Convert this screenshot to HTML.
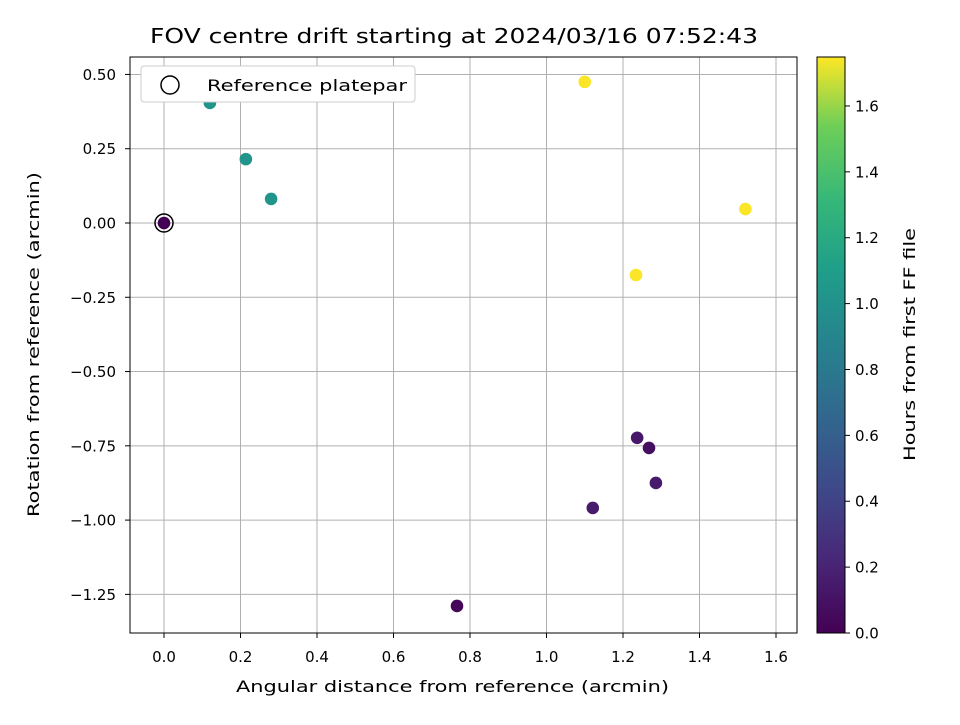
<!DOCTYPE html>
<html><head><meta charset="utf-8"><style>body{margin:0;background:#fff}svg{font-family:"DejaVu Sans","Liberation Sans",sans-serif}</style></head>
<body>
<svg id="chart" width="960" height="720" xmlns="http://www.w3.org/2000/svg">
<defs><linearGradient id="vir" x1="0" y1="1" x2="0" y2="0">
<stop offset="0" stop-color="#440154"/><stop offset="0.13" stop-color="#482878"/><stop offset="0.25" stop-color="#3e4989"/><stop offset="0.38" stop-color="#31688e"/><stop offset="0.5" stop-color="#26828e"/><stop offset="0.63" stop-color="#1f9e89"/><stop offset="0.75" stop-color="#35b779"/><stop offset="0.88" stop-color="#6ece58"/><stop offset="1" stop-color="#fde725"/></linearGradient></defs>
<text x="150" y="43" font-size="20" textLength="608" lengthAdjust="spacingAndGlyphs">FOV centre drift starting at 2024/03/16 07:52:43</text>
<g id="grid"></g><g id="ticks"></g><g id="pts"></g>
<rect x="130" y="57" width="667" height="576" fill="none" stroke="#000" stroke-width="1"/>
<text x="236" y="692" font-size="16" textLength="433" lengthAdjust="spacingAndGlyphs">Angular distance from reference (arcmin)</text>
<text transform="translate(39,517) rotate(-90)" font-size="16" textLength="345" lengthAdjust="spacingAndGlyphs">Rotation from reference (arcmin)</text>
<g>
<rect x="141" y="66" width="274" height="36" rx="3" fill="#fff" stroke="#ccc"/>
<circle cx="170" cy="85" r="9" fill="none" stroke="#000" stroke-width="1.5"/>
<text x="207" y="91" font-size="16" textLength="200" lengthAdjust="spacingAndGlyphs">Reference platepar</text></g>
<rect x="817" y="57" width="28" height="576" fill="url(#vir)" stroke="#000"/>
<g id="cticks"></g>
<text transform="translate(915,461) rotate(-90)" font-size="16" textLength="233" lengthAdjust="spacingAndGlyphs">Hours from first FF file</text>
</svg>
<script>
const xs=[0,0.12,0.214,0.28,1.10,1.52,1.234,1.237,1.268,1.286,1.121,0.766];
const ys=[0,0.404,0.215,0.081,0.475,0.047,-0.175,-0.723,-0.757,-0.875,-0.959,-1.289];
const hrs=[0,1.03,1.03,1.03,1.75,1.75,1.75,0.12,0.08,0.14,0.14,0.03];
const xTicks=[0,0.2,0.4,0.6,0.8,1.0,1.2,1.4,1.6];
const yTicks=[0.5,0.25,0,-0.25,-0.5,-0.75,-1,-1.25];
const cTicks=[0,0.2,0.4,0.6,0.8,1.0,1.2,1.4,1.6];
const X=v=>164+v*382.5, Y=v=>223-v*297.1, C=v=>633-v*329.4;
const ns="http://www.w3.org/2000/svg";
function mk(t,a,p){const e=document.createElementNS(ns,t);for(const k in a)e.setAttribute(k,a[k]);document.getElementById(p).appendChild(e);return e;}
const vir=[[68,1,84],[72,40,120],[62,73,137],[49,104,142],[38,130,142],[31,158,137],[53,183,121],[110,206,88],[253,231,37]];
function col(t){let f=Math.max(0,Math.min(1,t/1.755))*8,i=Math.min(7,Math.floor(f)),r=f-i;const c=vir[i].map((v,j)=>Math.round(v+(vir[i+1][j]-v)*r));return `rgb(${c})`;}
xTicks.forEach(v=>{const x=X(v);
let g=mk('line',{x1:x,x2:x,y1:57,y2:633,stroke:'#b0b0b0'},'grid');
mk('line',{x1:x,x2:x,y1:633,y2:638,stroke:'#000'},'ticks');
let t=mk('text',{x:x,y:662,'font-size':15,'text-anchor':'middle'},'ticks');t.textContent=v.toFixed(1);});
yTicks.forEach(v=>{const y=Y(v);
let g=mk('line',{x1:130,x2:797,y1:y,y2:y,stroke:'#b0b0b0'},'grid');
mk('line',{x1:125,x2:130,y1:y,y2:y,stroke:'#000'},'ticks');
let t=mk('text',{x:116,y:y+5.5,'font-size':15,'text-anchor':'end'},'ticks');t.textContent=v.toFixed(2).replace('-','\u2212');});
cTicks.forEach(v=>{const y=C(v);
mk('line',{x1:845,x2:850,y1:y,y2:y,stroke:'#000'},'cticks');
let t=mk('text',{x:855,y:y+5.5,'font-size':15},'cticks');t.textContent=v.toFixed(1);});
let ref=mk('circle',{cx:X(0),cy:Y(0),r:9,fill:'none',stroke:'#000','stroke-width':1.5},'pts');
xs.forEach((v,i)=>{let c=mk('circle',{cx:X(v),cy:Y(ys[i]),r:6.3,fill:col(hrs[i])},'pts');});
</script>
</body></html>
